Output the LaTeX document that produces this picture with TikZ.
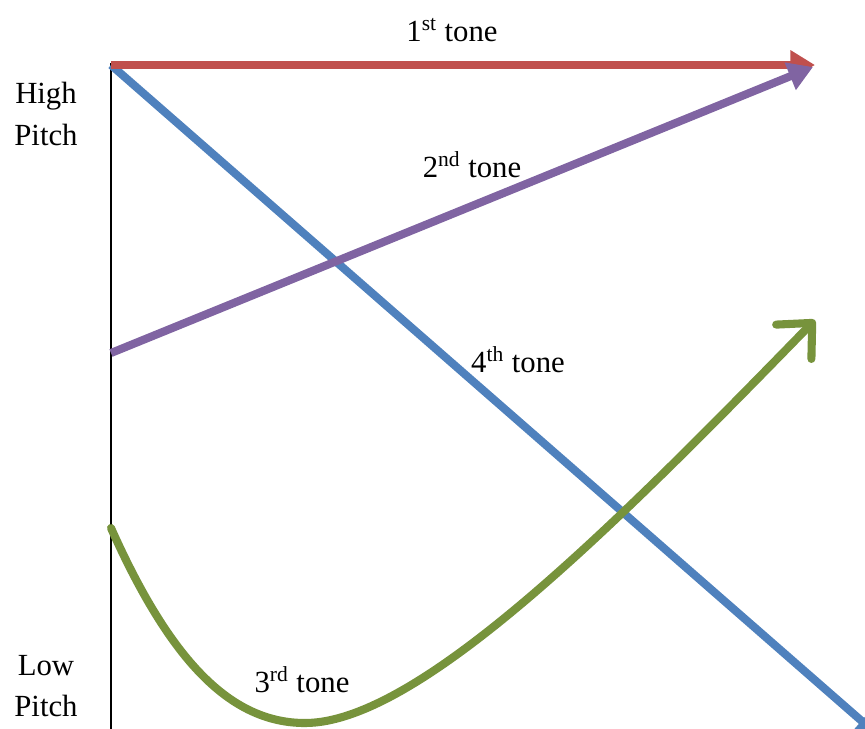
\documentclass[tikz,border=0pt]{standalone}
\usepackage{fontspec}
\setmainfont{Liberation Serif}
\usetikzlibrary{arrows.meta, positioning}

\definecolor{tonered}{HTML}{C0504D}
\definecolor{tonepurple}{HTML}{8064A2}
\definecolor{toneblue}{HTML}{4F81BD}
\definecolor{tonegreen}{HTML}{77933C}

\begin{document}
\begin{tikzpicture}[
    x=0.02cm, y=-0.02cm,
    axisline/.style={draw=black, line width=1.4pt},
    tonearrow/.style={line width=4.6pt, -{Triangle[length=14pt, width=16pt]}},
    curvearrow/.style={line width=4.6pt, line cap=round, -{Straight Barb[length=15pt, width=28pt, line cap=round, line join=round]}},
    tonelabel/.style={font=\fontsize{17.5}{21}\selectfont, inner sep=0pt},
    pitchlabel/.style={font=\fontsize{17.5}{23.8}\selectfont, align=center, inner sep=0pt},
]
\useasboundingbox (0,0) rectangle (865,728);

% Pitch axis
\coordinate (top) at (111,63);
\coordinate (bottom) at (111,735);
\draw[axisline] (top) -- (bottom);

\node[pitchlabel] (high) at (46,114) {High\\Pitch};
\node[pitchlabel] (low) at (46,686) {Low\\Pitch};

% Tone end points
\coordinate (hstart) at (111,65);
\coordinate (hend) at (815,65);
\coordinate (rstart) at (111,353);
\coordinate (rend) at (813,67);
\coordinate (dstart) at (111,528);
\coordinate (dmin) at (305,723);
\coordinate (dend) at (815,320);
\coordinate (fend) at (880,737);

% 4th tone
\draw[tonearrow, toneblue] (hstart) -- (fend);

% 1st tone
\draw[tonearrow, tonered] (hstart) -- (hend);

% 2nd tone
\draw[tonearrow, tonepurple] (rstart) -- (rend);

% 3rd tone
\draw[curvearrow, tonegreen] (dstart) .. controls (170,660) and (230,723) .. (dmin)
    .. controls (420,723) and (620,520) .. (dend);

% Tone labels
\node[tonelabel] (first) at (452,30) {1\textsuperscript{st} tone};
\node[tonelabel] (second) at (472,165) {2\textsuperscript{nd} tone};
\node[tonelabel] (fourth) at (518,360) {4\textsuperscript{th} tone};
\node[tonelabel] (third) at (302,680) {3\textsuperscript{rd} tone};

\end{tikzpicture}
\end{document}
